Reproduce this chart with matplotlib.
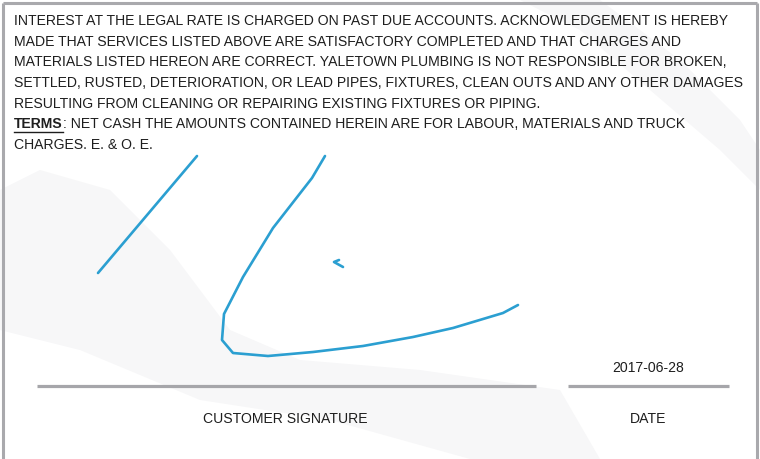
import matplotlib
matplotlib.use("Agg")
import matplotlib.pyplot as plt
import numpy as np

plt.rcParams['font.family'] = ['Liberation Sans', 'DejaVu Sans']

terms_lines = [
    "INTEREST AT THE LEGAL RATE IS CHARGED ON PAST DUE ACCOUNTS. ACKNOWLEDGEMENT IS HEREBY",
    "MADE THAT SERVICES LISTED ABOVE ARE SATISFACTORY COMPLETED AND THAT CHARGES AND",
    "MATERIALS LISTED HEREON ARE CORRECT. YALETOWN PLUMBING IS NOT RESPONSIBLE FOR BROKEN,",
    "SETTLED, RUSTED, DETERIORATION, OR LEAD PIPES, FIXTURES, CLEAN OUTS AND ANY OTHER DAMAGES",
    "RESULTING FROM CLEANING OR REPAIRING EXISTING FIXTURES OR PIPING.",
]
terms_bold = "TERMS"
terms_rest = ": NET CASH THE AMOUNTS CONTAINED HEREIN ARE FOR LABOUR, MATERIALS AND TRUCK"
terms_last = "CHARGES. E. & O. E."
date_value = "2017-06-28"
label_sig = "CUSTOMER SIGNATURE"
label_date = "DATE"

stroke1_x = [98, 197]
stroke1_y = [273, 156]
stroke2_x = [325, 312, 273, 243, 224, 222, 233, 268, 313, 363, 413, 453, 503, 518]
stroke2_y = [156, 178, 228, 277, 314, 340, 353, 356, 352, 346, 337, 328, 313, 305]
stroke3_x = [339, 334, 343]
stroke3_y = [260, 262, 267]

W, H = 760, 459
fig = plt.figure(figsize=(W/100, H/100), dpi=100)
ax = fig.add_axes([0, 0, 1, 1])
ax.set_xlim(0, W)
ax.set_ylim(H, 0)
ax.axis('off')

# faint watermark swooshes
wm = '#f7f7f8'
ax.fill([0, 40, 110, 170, 230, 300, 420, 560, 600, 470, 330, 200, 80, 0],
        [190, 170, 190, 250, 330, 360, 370, 390, 459, 459, 420, 400, 350, 330], color=wm, zorder=0, lw=0)
ax.fill([520, 600, 680, 740, 760, 760, 720, 650, 580],
        [0, 0, 60, 120, 150, 190, 150, 90, 30], color=wm, zorder=0, lw=0)

# border
bc = '#a9a9ad'
ax.plot([3, 3], [H, 3], color=bc, lw=2.2, solid_capstyle='butt')
ax.plot([3, 757], [3, 3], color=bc, lw=2.2, solid_capstyle='butt')
ax.plot([757, 757], [3, H], color=bc, lw=2.2, solid_capstyle='butt')

tc = '#1e1e1e'
fs = 10.1
y0 = 21
dy = 20.7
for i, line in enumerate(terms_lines):
    ax.text(14, y0 + i*dy, line, fontsize=fs, color=tc, va='center', ha='left')
yt = y0 + 5*dy
tb = ax.text(14, yt, terms_bold, fontsize=fs, color=tc, va='center', ha='left', fontweight='bold')
fig.canvas.draw()
bb = tb.get_window_extent().transformed(ax.transData.inverted())
x1 = max(bb.x0, bb.x1)
ax.plot([14, x1], [yt + 7.5, yt + 7.5], color=tc, lw=1.0)
ax.text(x1, yt, terms_rest, fontsize=fs, color=tc, va='center', ha='left')
ax.text(14, y0 + 6*dy, terms_last, fontsize=fs, color=tc, va='center', ha='left')

# signature
sc = '#2b9fd1'
for xs, ys in [(stroke1_x, stroke1_y), (stroke2_x, stroke2_y), (stroke3_x, stroke3_y)]:
    ax.plot(xs, ys, color=sc, lw=1.9, solid_joinstyle='round', solid_capstyle='round')

# lines
lc = '#a6a6aa'
ax.plot([37, 536], [386, 386], color=lc, lw=2.3, solid_capstyle='butt')
ax.plot([568, 729], [386, 386], color=lc, lw=2.3, solid_capstyle='butt')

ax.text(648, 368, date_value, fontsize=fs, color=tc, va='center', ha='center')
ax.text(285, 419, label_sig, fontsize=fs, color=tc, va='center', ha='center')
ax.text(648, 419, label_date, fontsize=fs, color=tc, va='center', ha='center')

fig.savefig('out.png', dpi=100)
